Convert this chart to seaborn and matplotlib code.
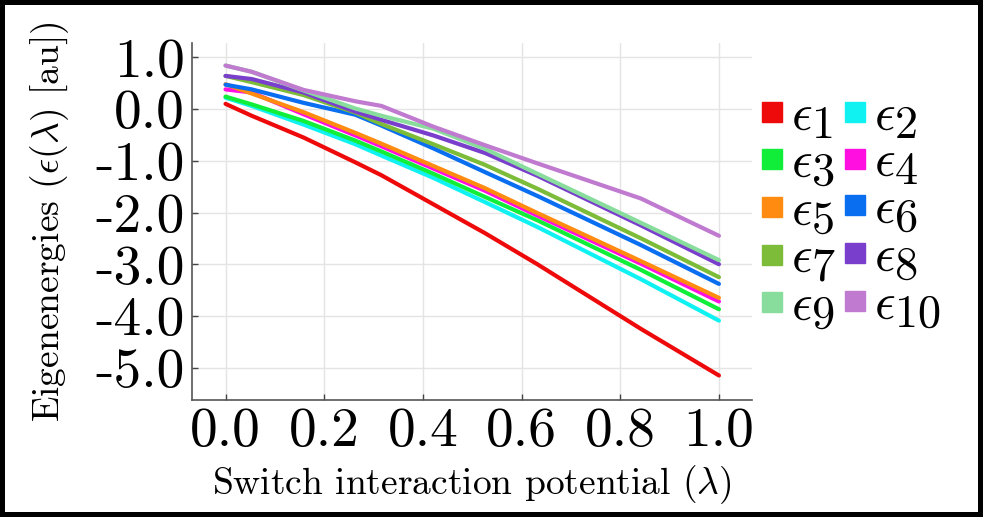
import matplotlib
matplotlib.use("Agg")
import matplotlib.pyplot as plt
import matplotlib._mathtext as mathtext_impl
from matplotlib.lines import Line2D
import seaborn as sns
import pandas as pd

# switch parameter grid (kinks visible in the reference)
lam = [0.0, 0.053, 0.158, 0.263, 0.316, 0.421, 0.526, 0.632, 0.842, 1.0]

eps1 = [0.10, -0.13, -0.55, -1.03, -1.28, -1.84, -2.40, -3.00, -4.25, -5.15]
eps2 = [0.22, 0.06, -0.30, -0.68, -0.90, -1.33, -1.80, -2.28, -3.29, -4.09]
eps3 = [0.24, 0.09, -0.23, -0.61, -0.82, -1.25, -1.70, -2.15, -3.11, -3.87]
eps4 = [0.38, 0.32, -0.10, -0.51, -0.72, -1.15, -1.58, -2.06, -2.99, -3.72]
eps5 = [0.48, 0.30, -0.06, -0.46, -0.67, -1.10, -1.53, -2.01, -2.94, -3.65]
eps6 = [0.47, 0.38, 0.12, -0.11, -0.32, -0.76, -1.22, -1.68, -2.63, -3.38]
eps7 = [0.64, 0.52, 0.27, -0.07, -0.29, -0.68, -1.08, -1.54, -2.50, -3.25]
eps8 = [0.64, 0.58, 0.32, -0.05, -0.21, -0.51, -0.85, -1.29, -2.25, -3.00]
eps9 = [0.84, 0.72, 0.36, 0.01, -0.13, -0.38, -0.77, -1.25, -2.20, -2.92]
eps10 = [0.84, 0.72, 0.37, 0.15, 0.06, -0.34, -0.70, -1.05, -1.73, -2.45]

levels = [eps1, eps2, eps3, eps4, eps5, eps6, eps7, eps8, eps9, eps10]
names = [r"$\epsilon_{%d}$" % (i + 1) for i in range(len(levels))]
colors = ["#ee0a0a", "#10f2f2", "#10ee3a", "#ff10e0", "#ff8c10",
          "#0a6ef0", "#7cbc38", "#7a3ecc", "#88dc9c", "#c07ad0"]

yticks = [1.0, 0.0, -1.0, -2.0, -3.0, -4.0, -5.0]
xticks = [0.0, 0.2, 0.4, 0.6, 0.8, 1.0]

rows = []
for n, vals in zip(names, levels):
    for x, y in zip(lam, vals):
        rows.append({"lam": x, "E": y, "level": n})
df = pd.DataFrame(rows)

sns.set_theme(style="whitegrid")
plt.rcParams["font.family"] = "serif"
plt.rcParams["font.serif"] = ["cmr10"]
plt.rcParams["mathtext.fontset"] = "cm"
plt.rcParams["axes.unicode_minus"] = False
plt.rcParams["text.color"] = "black"
plt.rcParams["axes.labelcolor"] = "black"
plt.rcParams["xtick.color"] = "black"
plt.rcParams["ytick.color"] = "black"
# subscripts in the reference legend are nearly full size
mathtext_impl.SHRINK_FACTOR = 0.9

fig = plt.figure(figsize=(9.83, 5.17), dpi=100, linewidth=5.8, edgecolor="black")
ax = fig.add_axes([0.1953, 0.2263, 0.5697, 0.6905])

sns.lineplot(data=df, x="lam", y="E", hue="level", palette=dict(zip(names, colors)),
             lw=3, legend=False, ax=ax, sort=False)

ax.set_xlim(-0.068, 1.067)
ax.set_ylim(-5.624, 1.276)
ax.set_xticks(xticks)
ax.set_xticklabels(["%.1f" % v for v in xticks])
ax.set_yticks(yticks)
ax.set_yticklabels(["%.1f" % v for v in yticks])
ax.tick_params(axis="both", labelsize=40, direction="in", length=4, width=1,
               color="#444444", pad=5, left=True, bottom=True)
ax.grid(True, color="#e4e4e4", lw=1)
ax.set_facecolor("white")
for s in ["top", "right"]:
    ax.spines[s].set_visible(False)
for s in ["left", "bottom"]:
    ax.spines[s].set_color("#555555")
    ax.spines[s].set_linewidth(1.2)

ax.set_xlabel(r"Switch interaction potential $(\lambda)$", fontsize=27, labelpad=5)
ax.set_ylabel(r"Eigenenergies $(\epsilon(\lambda)$ [au])", fontsize=27, labelpad=18)

# legend filled row by row: e1 e2 / e3 e4 / ...
order = [0, 2, 4, 6, 8, 1, 3, 5, 7, 9]
handles = [Line2D([], [], marker="s", ls="none", color=colors[i], markersize=14) for i in order]
labels = [names[i] for i in order]
fig.legend(handles, labels, loc="upper left", bbox_to_anchor=(0.745, 0.868),
           bbox_transform=fig.transFigure, ncol=2, frameon=False, fontsize=37,
           handletextpad=0.1, columnspacing=0.08, labelspacing=0.0, handlelength=0.55,
           borderpad=0.0)

fig.savefig("out.png", dpi=100, edgecolor="black")
